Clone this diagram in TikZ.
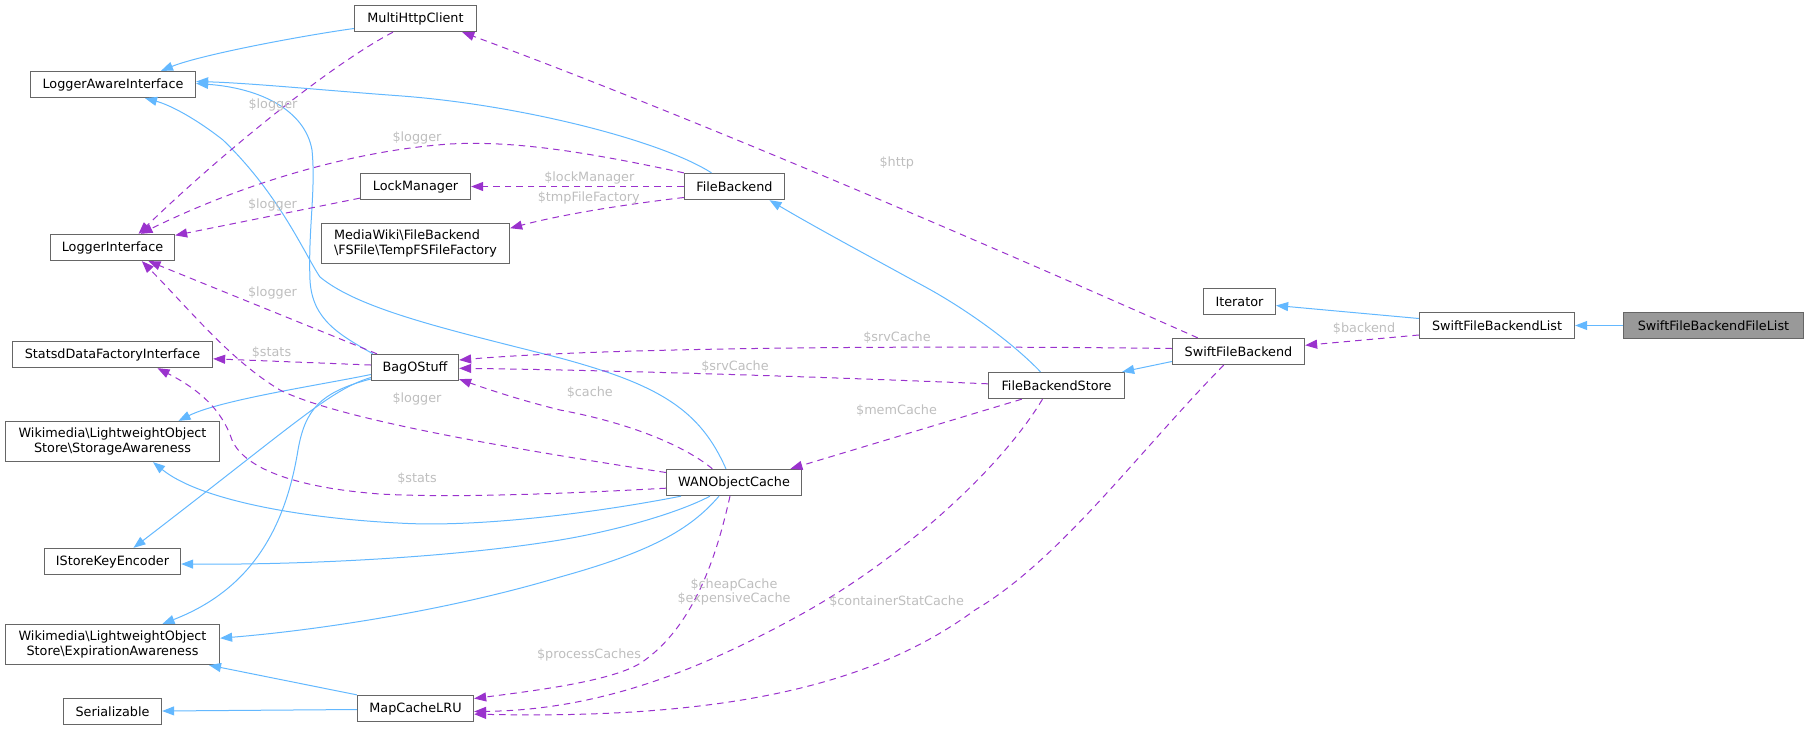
\documentclass[tikz,border=0pt]{standalone}
\usepackage{fontspec}
\setmainfont{DejaVu Sans}
\usetikzlibrary{arrows.meta}
\definecolor{edgeblue}{HTML}{63B8FF}
\definecolor{edgepurple}{HTML}{9A32CD}
\definecolor{labelgray}{HTML}{BEBEBE}
\definecolor{boxborder}{HTML}{666666}
\definecolor{rootfill}{HTML}{999999}
\begin{document}
\begin{tikzpicture}[x=1pt,y=-1pt,
  box/.style={draw=boxborder, line width=1.3pt, fill=white, inner sep=0pt, text=black,
    font=\fontsize{12.8}{15.3}\selectfont},
  inherit/.style={draw=edgeblue, line width=1pt, -{Triangle[length=12pt,width=9pt]}},
  uses/.style={draw=edgepurple, line width=1pt, dash pattern=on 6.5pt off 5pt, -{Triangle[length=12pt,width=9pt]}},
  elabel/.style={text=labelgray, inner sep=0pt, font=\fontsize{12.8}{14}\selectfont, align=center},
]
\useasboundingbox (0,0) rectangle (1808,729);

% nodes
\node[box, minimum width=122pt, minimum height=26pt] (multi) at (415.5,18.5) {MultiHttpClient};
\node[box, minimum width=165pt, minimum height=26pt] (lai) at (113,84.5) {LoggerAwareInterface};
\node[box, minimum width=110pt, minimum height=26pt] (lockm) at (415.5,186.5) {LockManager};
\node[box, minimum width=100pt, minimum height=26pt] (fb) at (734.5,186.5) {FileBackend};
\node[box, minimum width=188pt, minimum height=40pt, align=left] (tmp) at (415.5,243.5) {MediaWiki\textbackslash FileBackend\\\textbackslash FSFile\textbackslash TempFSFileFactory};
\node[box, minimum width=124pt, minimum height=26pt] (li) at (112.5,247.5) {LoggerInterface};
\node[box, minimum width=72pt, minimum height=26pt] (iter) at (1239.5,301.5) {Iterator};
\node[box, minimum width=155pt, minimum height=26pt] (sfbl) at (1497,325.5) {SwiftFileBackendList};
\node[box, fill=rootfill, minimum width=180pt, minimum height=26pt] (sfbfl) at (1713.5,325.5) {SwiftFileBackendFileList};
\node[box, minimum width=132pt, minimum height=26pt] (sfb) at (1238.5,351.5) {SwiftFileBackend};
\node[box, minimum width=136pt, minimum height=26pt] (fbs) at (1056.5,385.5) {FileBackendStore};
\node[box, minimum width=200pt, minimum height=26pt] (stats) at (112.5,354.5) {StatsdDataFactoryInterface};
\node[box, minimum width=87pt, minimum height=26pt] (bag) at (415,367.5) {BagOStuff};
\node[box, minimum width=214pt, minimum height=40pt, align=center] (storage) at (112.5,441.5) {Wikimedia\textbackslash LightweightObject\\Store\textbackslash StorageAwareness};
\node[box, minimum width=135pt, minimum height=26pt] (wan) at (734,482.5) {WANObjectCache};
\node[box, minimum width=136pt, minimum height=26pt] (isk) at (112.5,561.5) {IStoreKeyEncoder};
\node[box, minimum width=214pt, minimum height=40pt, align=center] (exp) at (112.5,644.5) {Wikimedia\textbackslash LightweightObject\\Store\textbackslash ExpirationAwareness};
\node[box, minimum width=98pt, minimum height=26pt] (ser) at (112.5,711.5) {Serializable};
\node[box, minimum width=116pt, minimum height=26pt] (mclru) at (415.5,708.5) {MapCacheLRU};

% inheritance edges
\draw[inherit] ([yshift=-10pt]multi.west) .. controls (300,36) and (200,55) .. ([xshift=48pt]lai.north);
\draw[inherit] ([xshift=-23pt]fb.north) .. controls (660,140) and (520,105) .. (402,96) .. controls (320,90) and (250,83) .. ([yshift=3pt]lai.east);
\draw[inherit] ([xshift=-42pt]bag.north) .. controls (340,335) and (312,320) .. (310,280) .. controls (308,230) and (316,190) .. (312,150) .. controls (305,110) and (260,88) .. ([yshift=1pt]lai.east);
\draw[inherit] ([xshift=-8pt]wan.north) .. controls (700,410) and (660,385) .. (560,358) .. controls (450,330) and (360,310) .. (320,277) .. controls (305,255) and (280,195) .. (223,140) .. controls (195,118) and (170,105) .. ([xshift=32pt]lai.south);
\draw[inherit] ([xshift=-16pt]fbs.north) .. controls (1010,340) and (960,305) .. (918,283) .. controls (880,262) and (820,230) .. ([xshift=35pt]fb.south);
\draw[inherit] ([yshift=-10pt]sfb.west) -- ([xshift=-3pt]fbs.north east);
\draw[inherit] ([yshift=7pt]sfbl.west) -- ([yshift=-4pt]iter.east);
\draw[inherit] (sfbfl.west) -- (sfbl.east);
\draw[inherit] ([yshift=-7pt]bag.west) .. controls (320,385) and (220,400) .. ([xshift=66pt]storage.north);
\draw[inherit] ([yshift=-10pt]bag.west) .. controls (330,390) and (300,420) .. ([xshift=21pt]isk.north);
\draw[inherit] ([yshift=-11.5pt]bag.west) .. controls (320,392) and (305,410) .. (298,450) .. controls (285,530) and (250,590) .. ([xshift=50pt]exp.north);
\draw[inherit] ([xshift=-53pt]wan.south) .. controls (600,512) and (480,528) .. (398,523) .. controls (300,518) and (200,500) .. ([xshift=40.5pt]storage.south);
\draw[inherit] ([xshift=-24pt]wan.south) .. controls (680,512) and (620,530) .. (560,540) .. controls (450,558) and (300,565) .. ([yshift=-2.5pt]isk.east);
\draw[inherit] ([xshift=-15pt]wan.south) .. controls (690,530) and (650,552) .. (560,577) .. controls (450,610) and (320,630) .. ([yshift=6.3pt]exp.east);
\draw[inherit] (mclru.north west) -- ([xshift=96.5pt]exp.south);
\draw[inherit] ([yshift=-1pt]mclru.west) -- ([yshift=0.5pt]ser.east);

% usage edges
\draw[uses] ([xshift=-22.5pt]multi.south) .. controls (330,65) and (220,155) .. ([xshift=26pt]li.north);
\draw[uses] (fb.north west) .. controls (600,155) and (520,140) .. (450,144) .. controls (360,150) and (250,180) .. ([xshift=28pt]li.north);
\draw[uses] (fb.west) -- (lockm.east);
\draw[uses] ([yshift=-11pt]fb.west) .. controls (620,205) and (560,215) .. ([yshift=15.3pt]tmp.east);
\draw[uses] ([yshift=2pt]lockm.south west) -- ([yshift=-1.5pt]li.north east);
\draw[uses] ([xshift=-38pt]bag.north) -- ([xshift=36pt]li.south);
\draw[uses] ([yshift=2.5pt]bag.west) -- ([yshift=-4.3pt]stats.east);
\draw[uses] ([yshift=10pt]wan.west) .. controls (520,450) and (340,420) .. (280,390) .. controls (230,360) and (190,310) .. ([xshift=29.4pt]li.south);
\draw[uses] ([yshift=-5.7pt]wan.west) .. controls (560,494) and (450,498) .. (380,494) .. controls (300,488) and (245,470) .. (232,440) .. controls (222,410) and (200,390) .. ([xshift=45pt]stats.south);
\draw[uses] ([xshift=-21.6pt]wan.north) .. controls (690,450) and (640,425) .. (560,410) .. controls (520,400) and (490,390) .. ([yshift=2pt]bag.south east);
\draw[uses] ([xshift=-4pt]wan.south) .. controls (720,540) and (700,620) .. (645,660) .. controls (620,680) and (540,690) .. ([yshift=10pt]mclru.east);
\draw[uses] ([yshift=1.7pt]fbs.west) .. controls (800,376) and (600,370) .. ([yshift=-0.8pt]bag.east);
\draw[uses] ([xshift=-34.7pt]fbs.south) -- ([xshift=56.4pt]wan.north);
\draw[uses] ([xshift=-14pt]fbs.south) .. controls (1000,470) and (900,560) .. (800,615) .. controls (700,670) and (600,710) .. ([yshift=-3pt]mclru.east);
\draw[uses] ([xshift=-40.8pt]sfb.north) .. controls (1000,250) and (700,120) .. ([xshift=46.75pt]multi.south);
\draw[uses] ([yshift=3pt]sfb.west) .. controls (900,345) and (600,348) .. ([yshift=7.5pt]bag.east);
\draw[uses] ([xshift=-14.8pt]sfb.south) .. controls (1140,450) and (1060,560) .. (975,610) .. controls (880,680) and (740,720) .. ([yshift=-5.6pt]mclru.east);
\draw[uses] ([yshift=-9.5pt]sfbl.west) -- ([yshift=6.2pt]sfb.east);

% edge labels
\node[elabel] (l1) at (273,105) {\$logger};
\node[elabel] (l2) at (417,137.7) {\$logger};
\node[elabel] (l3) at (589.3,177.7) {\$lockManager};
\node[elabel] (l4) at (588.8,197.7) {\$tmpFileFactory};
\node[elabel] (l5) at (272.5,205) {\$logger};
\node[elabel] (l6) at (896.8,162.7) {\$http};
\node[elabel] (l7) at (272.5,292.7) {\$logger};
\node[elabel] (l8) at (271.5,352.3) {\$stats};
\node[elabel] (l9) at (897,337.3) {\$srvCache};
\node[elabel] (l10) at (735,366.7) {\$srvCache};
\node[elabel] (l11) at (1364,328.3) {\$backend};
\node[elabel] (l12) at (417,399) {\$logger};
\node[elabel] (l13) at (589.8,393) {\$cache};
\node[elabel] (l14) at (896.5,410.7) {\$memCache};
\node[elabel] (l15) at (417,479) {\$stats};
\node[elabel] (l16) at (734,592) {\$cheapCache\\\$expensiveCache};
\node[elabel] (l17) at (896.6,601.3) {\$containerStatCache};
\node[elabel] (l18) at (589,654.7) {\$processCaches};
\end{tikzpicture}
\end{document}
